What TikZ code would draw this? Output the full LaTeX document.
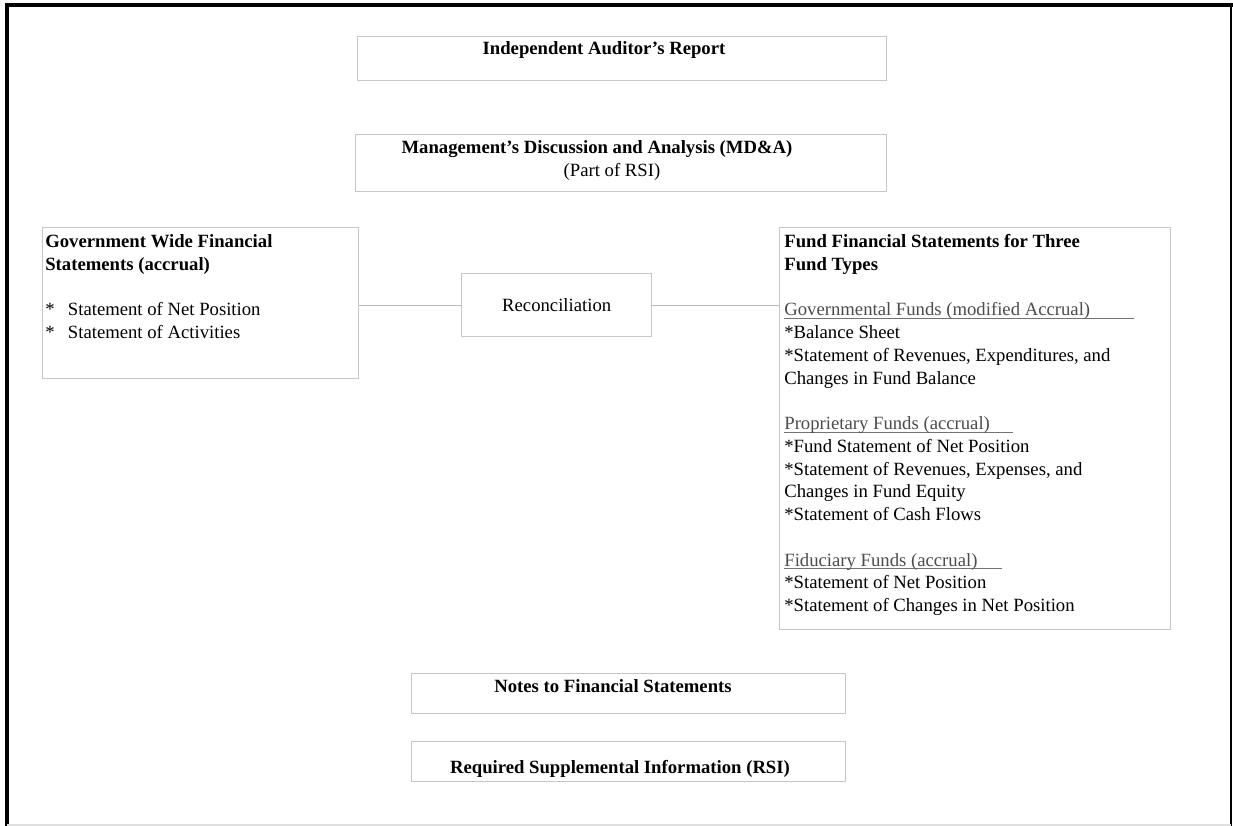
\documentclass[tikz,border=0pt]{standalone}
\usepackage{fontspec}
\setmainfont{Liberation Serif}
\usepackage{xcolor}
\usetikzlibrary{positioning}

\def\pxu{0.567pt}
\newcommand{\fundhead}[2]{\setbox0\hbox{#1\hspace*{#2}}%
  \rlap{\color{black!55}\rule[-1.9pt]{\wd0}{0.6pt}}\textcolor{black!70}{#1}}

\begin{document}
\begin{tikzpicture}[x=0.567pt, y=-0.567pt,
  panel/.style = {draw=gray!45, line width=0.8pt, anchor=north west, inner sep=0pt, font=\fontsize{10.6}{12.9}\selectfont},
  head/.style = {inner sep=0pt, font=\fontsize{10.6}{12.9}\selectfont\bfseries},
  body/.style = {inner sep=0pt, anchor=north west, align=left, font=\fontsize{10.6}{12.9}\selectfont},
  link/.style = {draw=gray!55, line width=0.7pt}]
  \useasboundingbox (0,0) rectangle (1233,826);
  % page frame
  \draw[line width=2.4pt] (5,5) -- (1233,5);
  \draw[line width=2.4pt] (7,4) -- (7,826);
  \draw[line width=1.2pt] (1231,5) -- (1231,826);
  \draw[gray!25, line width=0.6pt] (7,825) -- (1231,825);

  % boxes
  \node[panel, minimum width=529*\pxu, minimum height=44*\pxu] (audit) at (357,36) {};
  \node[panel, minimum width=531*\pxu, minimum height=57*\pxu] (mdna) at (355,134) {};
  \node[panel, minimum width=316*\pxu, minimum height=151*\pxu] (govt) at (42,227) {};
  \node[panel, minimum width=190*\pxu, minimum height=63*\pxu] (recon) at (461,273) {Reconciliation};
  \node[panel, minimum width=391*\pxu, minimum height=402*\pxu] (fund) at (779,227) {};
  \node[panel, minimum width=434*\pxu, minimum height=40*\pxu] (notes) at (411,673) {};
  \node[panel, minimum width=434*\pxu, minimum height=40*\pxu] (rsi) at (411,741) {};

  % texts
  \node[head] (audittext) at (604,50) {Independent Auditor's Report};
  \node[head] (mdnatext) at (597,149) {Management's Discussion and Analysis (MD\&A)};
  \node[inner sep=0pt, font=\fontsize{10.6}{12.9}\selectfont] (rsipart) at (612,172) {(Part of RSI)};
  \node[head] (notestext) at (613,686) {Notes to Financial Statements};
  \node[head] (rsitext) at (620,769) {Required Supplemental Information (RSI)};

  \node[body] (govttext) at (45,234) {\textbf{Government Wide Financial}\\
    \textbf{Statements (accrual)}\\[12.9pt]
    *\hspace{7.5pt}Statement of Net Position\\
    *\hspace{7.5pt}Statement of Activities};

  \node[body] (fundtext) at (784,234) {\textbf{Fund Financial Statements for Three}\\
    \textbf{Fund Types}\\[12.9pt]
    \fundhead{Governmental Funds (modified Accrual)}{25pt}\\
    *Balance Sheet\\
    *Statement of Revenues, Expenditures, and\\
    Changes in Fund Balance\\[12.9pt]
    \fundhead{Proprietary Funds (accrual)}{13pt}\\
    *Fund Statement of Net Position\\
    *Statement of Revenues, Expenses, and\\
    Changes in Fund Equity\\
    *Statement of Cash Flows\\[12.9pt]
    \fundhead{Fiduciary Funds (accrual)}{14pt}\\
    *Statement of Net Position\\
    *Statement of Changes in Net Position};

  % connectors
  \draw[link] (recon.west) -- (recon.west -| govt.east);
  \draw[link] (recon.east) -- (recon.east -| fund.west);
\end{tikzpicture}
\end{document}
